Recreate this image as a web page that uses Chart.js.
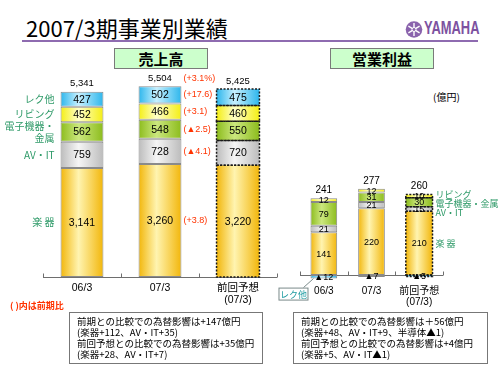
<!DOCTYPE html>
<html lang="ja">
<head>
<meta charset="UTF-8">
<title>2007/3期事業別業績</title>
<script src="https://cdn.jsdelivr.net/npm/chart.js"></script>
<style>
    body { margin: 0; background: #fff; font-family: "Noto Sans CJK JP", "Liberation Sans", sans-serif; }
    .page { position: relative; width: 500px; height: 375px; overflow: hidden; }
    canvas { position: absolute; left: 0; top: 0; }
    .title { position: absolute; left: 26px; top: 15px; font-size: 22px; line-height: 24px; color: #000; white-space: nowrap; }
    .rule { position: absolute; left: 22px; top: 40px; width: 456px; height: 2px; background: #8e6bb0; }
    .logo { position: absolute; left: 405px; top: 21px; }
    .logo-text { position: absolute; left: 424px; top: 17px; font-family: "Liberation Sans", sans-serif; font-weight: bold;
                 font-size: 19px; color: #7d52a0; transform: scaleX(0.68); transform-origin: left top; }
    .head-box { position: absolute; top: 48px; height: 19px; background: #ccffcc; border: 1px solid #7a7a7a;
                font-weight: bold; font-size: 15px; line-height: 19px; text-align: center; color: #000; }
    .unit { position: absolute; left: 433px; top: 89px; font-size: 10px; color: #000; }
    .note { position: absolute; left: 10px; top: 299px; font-size: 9px; color: #ff3300; font-weight: bold; }
    .fx-box { position: absolute; top: 312px; height: 44px; border: 1px solid #777; padding: 3px 0 3px 7px;
              font-size: 9.5px; line-height: 11px; color: #000; white-space: nowrap; }
</style>
</head>
<body>
<div class="page">
    <div class="title">2007/3期事業別業績</div>
    <svg class="logo" width="18" height="17" viewBox="0 0 18 17">
        <circle cx="9" cy="8.5" r="8.3" fill="#8a63ad"/>
        <g stroke="#fff" stroke-width="1.4">
            <line x1="9" y1="2" x2="9" y2="15"/>
            <line x1="3.4" y1="5.2" x2="14.6" y2="11.8"/>
            <line x1="3.4" y1="11.8" x2="14.6" y2="5.2"/>
        </g>
        <circle cx="9" cy="8.5" r="2" fill="#8a63ad" stroke="#fff" stroke-width="1"/>
    </svg>
    <div class="logo-text">YAMAHA</div>
    <div class="rule"></div>

    <div class="head-box" style="left:114px; width:92px;">売上高</div>
    <div class="head-box" style="left:330px; width:102px;">営業利益</div>
    <div class="unit">(億円)</div>

    <canvas id="salesChart" width="500" height="375"></canvas>
    <canvas id="profitChart" width="500" height="375"></canvas>

    <div class="note">( )内は前期比</div>
    <div class="fx-box" style="left:69px; width:185px;">
        前期との比較での為替影響は+147億円<br>
        (楽器+112、AV・IT+35)<br>
        前回予想との比較での為替影響は+35億円<br>
        (楽器+28、AV・IT+7)
    </div>
    <div class="fx-box" style="left:293px; width:186px;">
        前期との比較での為替影響は＋56億円<br>
        (楽器+48、AV・IT+9、半導体▲1)<br>
        前回予想との比較での為替影響は+4億円<br>
        (楽器+5、AV・IT▲1)
    </div>
</div>

<script>
    // categories and segments (bottom to top)
    const periods = ['06/3', '07/3', ['前回予想', '(07/3)']];
    const segments = ['楽 器', 'AV・IT', '電子機器・金属', 'リビング', 'レク他'];

    // 売上高 (億円)
    const salesMusic = [3141, 3260, 3220];
    const salesAvIt = [759, 728, 720];
    const salesElec = [562, 548, 550];
    const salesLiving = [452, 466, 460];
    const salesRec = [427, 502, 475];
    const salesTotal = [5341, 5504, 5425];
    // 前期比 for 07/3, per segment, and for the total
    const salesYoY = ['(+3.8)', '(▲4.1)', '(▲2.5)', '(+3.1)', '(+17.6)'];
    const salesTotalYoY = '(+3.1%)';

    // 営業利益 (億円)
    const profitMusic = [141, 220, 210];
    const profitAvIt = [21, 21, 15];
    const profitElec = [79, 31, 30];
    const profitLiving = [12, 12, 10];
    const profitRec = [-12, -7, -5];
    const profitTotal = [241, 277, 260];

    const FORECAST = 2;
    const segColors = [
        ['#f2b60a', '#fff4b0'],
        ['#bcbcbc', '#f5f5f5'],
        ['#8cbc1c', '#cbe77e'],
        ['#f4ee14', '#ffffc8'],
        ['#2db6ec', '#c6f0ff']
    ];
    const GREEN = '#2e9a68';
    const RED = '#ff3300';

    function fmt(v) {
        return v < 0 ? '▲' + Math.abs(v) : v.toLocaleString('en-US');
    }

    // horizontal "cylinder" shading, centred on the bar
    function shade(c, pair, pct) {
        const chart = c.chart, xs = chart.scales.x;
        if (!xs || c.dataIndex === undefined || !xs.width) return pair[0];
        const cx = xs.getPixelForValue(c.dataIndex);
        const half = xs.width / periods.length * pct / 2;
        const g = chart.ctx.createLinearGradient(cx - half, 0, cx + half, 0);
        g.addColorStop(0, pair[0]);
        g.addColorStop(0.42, pair[1]);
        g.addColorStop(1, pair[0]);
        return g;
    }

    function makeDatasets(series, pct) {
        return series.map((data, i) => ({
            label: segments[i],
            data: data,
            backgroundColor: c => shade(c, segColors[i], pct),
            borderColor: '#8a8a8a',
            borderWidth: c => c.dataIndex === FORECAST ? 0 : 1,
            borderSkipped: false,
            barPercentage: pct,
            categoryPercentage: 1
        }));
    }

    function drawAxis(chart) {
        const {ctx, chartArea: a, scales: {y}} = chart;
        const y0 = Math.round(y.getPixelForValue(0)) + 0.5;
        const step = (a.right - a.left) / periods.length;
        ctx.save();
        ctx.strokeStyle = '#6e6e6e';
        ctx.lineWidth = 1;
        ctx.beginPath();
        ctx.moveTo(a.left, y0);
        ctx.lineTo(a.right, y0);
        for (let i = 0; i <= periods.length; i++) {
            const x = Math.round(a.left + i * step) + 0.5;
            ctx.moveTo(x, y0);
            ctx.lineTo(x, y0 - 4);
        }
        ctx.stroke();
        ctx.restore();
    }

    function barTop(chart, i) {
        let top = Infinity;
        chart.data.datasets.forEach((ds, d) => {
            const el = chart.getDatasetMeta(d).data[i];
            top = Math.min(top, el.y, el.base);
        });
        return top;
    }

    // values inside segments, dotted outline on the forecast bar, totals on top
    function drawBarTexts(chart, valueFont, totalFont, totals) {
        const ctx = chart.ctx;
        ctx.save();
        ctx.textAlign = 'center';
        ctx.textBaseline = 'middle';
        chart.data.datasets.forEach((ds, d) => {
            chart.getDatasetMeta(d).data.forEach((el, i) => {
                const top = Math.min(el.y, el.base), h = Math.abs(el.base - el.y);
                if (i === FORECAST) {
                    ctx.save();
                    ctx.strokeStyle = '#1a1a1a';
                    ctx.lineWidth = 1.5;
                    ctx.setLineDash([2, 1.5]);
                    ctx.strokeRect(el.x - el.width / 2, top, el.width, h);
                    ctx.restore();
                }
                ctx.fillStyle = '#000';
                ctx.font = valueFont;
                ctx.fillText(fmt(ds.data[i]), el.x, top + h / 2 + 0.5);
            });
        });
        ctx.font = totalFont;
        totals.forEach((t, i) => {
            const el = chart.getDatasetMeta(0).data[i];
            ctx.fillText(fmt(t), el.x, barTop(chart, i) - 8);
        });
        ctx.restore();
    }

    const salesPlugin = {
        id: 'salesPlugin',
        beforeDatasetsDraw(chart) { drawAxis(chart); },
        afterDatasetsDraw(chart) {
            const ctx = chart.ctx;
            drawBarTexts(chart, '10.5px "Liberation Sans", sans-serif', '9.5px "Liberation Sans", sans-serif', salesTotal);
            ctx.save();
            ctx.textBaseline = 'middle';
            chart.data.datasets.forEach((ds, d) => {
                const meta = chart.getDatasetMeta(d);
                // segment names left of the first bar
                const first = meta.data[0];
                const cy = (first.y + first.base) / 2;
                const name = ds.label;
                const lines = name.length > 5 ? [name.slice(0, 5), name.slice(5)] : [name];
                ctx.textAlign = 'right';
                ctx.fillStyle = GREEN;
                ctx.font = '10px "Noto Sans CJK JP", sans-serif';
                lines.forEach((ln, k) => {
                    ctx.fillText(ln, first.x - first.width / 2 - 6, cy + (k - (lines.length - 1) / 2) * 12);
                });
                // 前期比 right of the 07/3 bar
                const el = meta.data[1];
                ctx.textAlign = 'left';
                ctx.fillStyle = RED;
                ctx.font = '9px "Liberation Sans", "Noto Sans CJK JP", sans-serif';
                ctx.fillText(salesYoY[d], el.x + el.width / 2 + 2, (el.y + el.base) / 2);
            });
            const el = chart.getDatasetMeta(0).data[1];
            ctx.fillText(salesTotalYoY, el.x + el.width / 2 + 2, barTop(chart, 1) - 8);
            ctx.restore();
        }
    };

    const profitPlugin = {
        id: 'profitPlugin',
        beforeDatasetsDraw(chart) { drawAxis(chart); },
        afterDatasetsDraw(chart) {
            const ctx = chart.ctx;
            drawBarTexts(chart, '9px "Liberation Sans", "Noto Sans CJK JP", sans-serif', '10px "Liberation Sans", sans-serif', profitTotal);
            ctx.save();
            ctx.textBaseline = 'middle';
            ctx.textAlign = 'left';
            ctx.fillStyle = GREEN;
            ctx.font = '9px "Noto Sans CJK JP", sans-serif';
            // segment names right of the forecast bar, spread so they do not overlap
            let prev = -Infinity;
            for (let d = chart.data.datasets.length - 1; d >= 0; d--) {
                if (chart.data.datasets[d].data[FORECAST] < 0) continue;
                const el = chart.getDatasetMeta(d).data[FORECAST];
                let cy = (el.y + el.base) / 2;
                if (prev === -Infinity) cy -= 2;
                cy = Math.max(cy, prev + 9);
                prev = cy;
                ctx.fillText(chart.data.datasets[d].label, el.x + el.width / 2 + 3, cy);
            }
            // callout box for the negative レク他 segment
            const rec = chart.getDatasetMeta(4).data[0];
            const left = rec.x - rec.width / 2, bottom = Math.max(rec.y, rec.base);
            const bx = left - 32, by = bottom + 9, bw = 29, bh = 12;
            ctx.strokeStyle = '#7a8a8a';
            ctx.lineWidth = 1;
            ctx.fillStyle = '#fff';
            ctx.fillRect(bx, by, bw, bh);
            ctx.strokeRect(bx + 0.5, by + 0.5, bw, bh);
            ctx.beginPath();
            ctx.moveTo(bx + bw - 4, by);
            ctx.lineTo(left + 3, bottom);
            ctx.stroke();
            ctx.fillStyle = '#1c9aa0';
            ctx.textAlign = 'center';
            ctx.fillText('レク他', bx + bw / 2 + 0.5, by + bh / 2 + 1);
            ctx.restore();
        }
    };

    function xAxis(fontSize, pad) {
        return {
            stacked: true,
            grid: { display: false, drawTicks: false },
            border: { display: false },
            ticks: {
                color: '#000',
                padding: pad,
                maxRotation: 0,
                autoSkip: false,
                font: { size: fontSize, family: '"Liberation Sans", "Noto Sans CJK JP", sans-serif', lineHeight: 1.15 }
            },
            afterFit(s) { s.height = 30; }
        };
    }

    new Chart(document.getElementById('salesChart'), {
        type: 'bar',
        data: {
            labels: periods,
            datasets: makeDatasets([salesMusic, salesAvIt, salesElec, salesLiving, salesRec], 0.55)
        },
        options: {
            responsive: false,
            animation: false,
            layout: { padding: { left: 43, right: 223, top: 69, bottom: 68 } },
            plugins: { legend: { display: false }, tooltip: { enabled: false } },
            scales: {
                x: xAxis(10.5, 5),
                y: { stacked: true, display: false, min: 0, max: 6000 }
            }
        },
        plugins: [salesPlugin]
    });

    new Chart(document.getElementById('profitChart'), {
        type: 'bar',
        data: {
            labels: periods,
            datasets: makeDatasets([profitMusic, profitAvIt, profitElec, profitLiving, profitRec], 0.56)
        },
        options: {
            responsive: false,
            animation: false,
            layout: { padding: { left: 300, right: 57, top: 184, bottom: 64 } },
            plugins: { legend: { display: false }, tooltip: { enabled: false } },
            scales: {
                x: xAxis(10, 4),
                y: { stacked: true, display: false, min: -20, max: 300 }
            }
        },
        plugins: [profitPlugin]
    });
</script>
</body>
</html>
